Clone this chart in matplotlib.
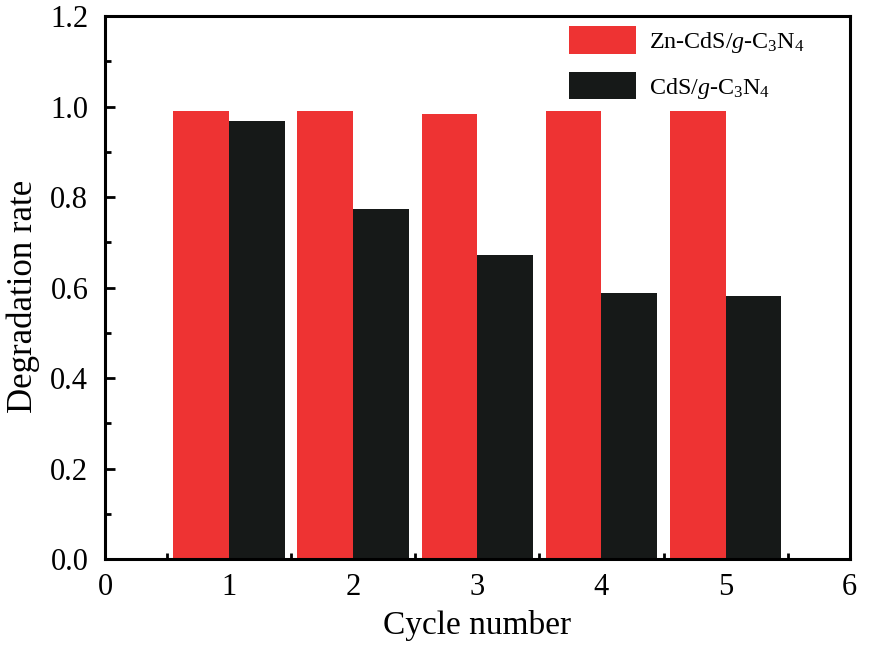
import numpy as np
import matplotlib.pyplot as plt
from matplotlib.ticker import MultipleLocator

plt.rcParams['font.family'] = ['Liberation Serif', 'DejaVu Serif']
plt.rcParams['mathtext.fontset'] = 'custom'
plt.rcParams['mathtext.rm'] = 'Liberation Serif'
plt.rcParams['mathtext.it'] = 'Liberation Serif:italic'

cycles = np.array([1, 2, 3, 4, 5])
zn_cds = [0.991, 0.991, 0.984, 0.991, 0.991]
cds = [0.968, 0.773, 0.672, 0.588, 0.581]
labels = ['Zn-CdS/$\\mathit{g}$-C$_3$N$_4$', 'CdS/$\\mathit{g}$-C$_3$N$_4$']

fig = plt.figure(figsize=(8.7, 6.45), dpi=100)
ax = fig.add_axes([0.1207, 0.1333, 0.856, 0.8417])

w = 0.45
ax.bar(cycles - w / 2, zn_cds, width=w, color='#ee3333', label=labels[0], zorder=3)
ax.bar(cycles + w / 2, cds, width=w, color='#161918', label=labels[1], zorder=3)

ax.set_xlim(0, 6)
ax.set_ylim(0, 1.2)
ax.xaxis.set_major_locator(MultipleLocator(1))
ax.xaxis.set_minor_locator(MultipleLocator(0.5))
ax.yaxis.set_major_locator(MultipleLocator(0.2))
ax.yaxis.set_minor_locator(MultipleLocator(0.1))
ax.yaxis.set_major_formatter(plt.FormatStrFormatter('%.1f'))
ax.tick_params(which='both', direction='in', width=2, labelsize=22, top=False, right=False)
ax.tick_params(which='major', length=7)
ax.tick_params(which='minor', length=4)
ax.tick_params(axis='x', which='major', pad=10)
ax.tick_params(axis='y', which='major', pad=12)
for s in ax.spines.values():
    s.set_linewidth(2.2)
    s.set_zorder(4)

ax.set_xlabel('Cycle number', fontsize=24, labelpad=6)
ax.set_ylabel('Degradation rate', fontsize=25)
ax.yaxis.set_label_coords(-0.087, 0.484)

ax.legend(loc='upper left', bbox_to_anchor=(569 / 870, 1 - 26 / 645), bbox_transform=fig.transFigure,
          frameon=False, fontsize=17.3, handlelength=2.8, handleheight=1.4,
          labelspacing=0.7, handletextpad=0.55, borderpad=0, borderaxespad=0)

fig.savefig('out.png', dpi=100)
